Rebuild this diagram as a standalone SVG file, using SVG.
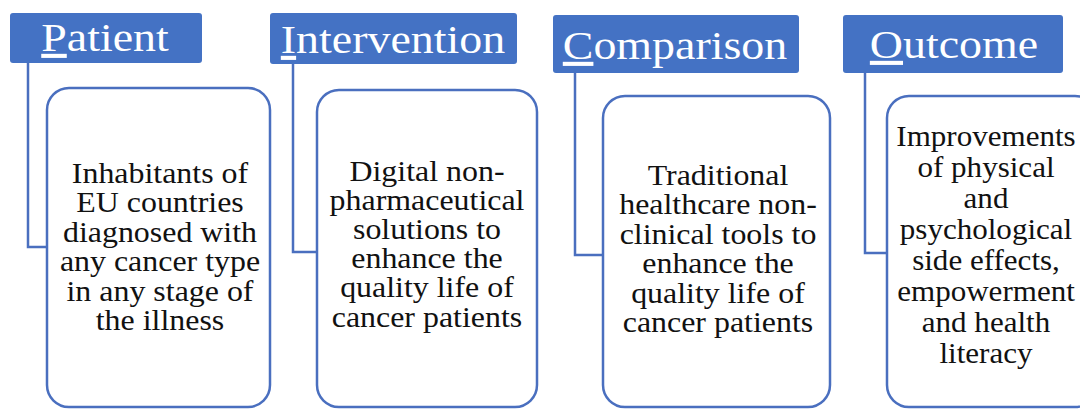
<svg xmlns="http://www.w3.org/2000/svg" width="1080" height="409" viewBox="0 0 1080 409">
<style>
.hdr{fill:#4472C4;}
.box{fill:#FFFFFF;stroke:#4A6FBF;stroke-width:2.5;}
.con{fill:none;stroke:#4A6FBF;stroke-width:2.5;}
.ht{font-family:"Liberation Serif","Times New Roman",serif;font-size:41px;fill:#FFFFFF;text-anchor:middle;}
.bt{font-family:"Liberation Serif","Times New Roman",serif;font-size:28.5px;fill:#111111;text-anchor:middle;}
.u{text-decoration:underline;}
</style>
<rect width="1080" height="409" fill="#FFFFFF"/>
<g id="connectors">
<path class="con" d="M28,63 V247 H47"/>
<path class="con" d="M293,64 V252 H317"/>
<path class="con" d="M575,73 V255 H603"/>
<path class="con" d="M865,73 V253 H887"/>
</g>
<g id="patient">
<rect class="hdr" x="10" y="13" width="192" height="50" rx="3"/>
<g transform="translate(105 0) scale(1.12 1)"><text class="ht" x="0" y="51"><tspan class="u">P</tspan>atient</text></g>
</g>
<g id="patient-detail">
<rect class="box" x="47" y="88" width="223" height="319" rx="22"/>
<g transform="translate(160 0) scale(1.12 1)">
<text class="bt" x="0" y="183">Inhabitants of</text>
<text class="bt" x="0" y="212.5">EU countries</text>
<text class="bt" x="0" y="242">diagnosed with</text>
<text class="bt" x="0" y="271.5">any cancer type</text>
<text class="bt" x="0" y="301">in any stage of</text>
<text class="bt" x="0" y="330.5">the illness</text>
</g>
</g>
<g id="intervention">
<rect class="hdr" x="270" y="13" width="247" height="51" rx="3"/>
<g transform="translate(393 0) scale(1.12 1)"><text class="ht" x="0" y="53"><tspan class="u">I</tspan>ntervention</text></g>
</g>
<g id="intervention-detail">
<rect class="box" x="317" y="90" width="220" height="317" rx="22"/>
<g transform="translate(427 0) scale(1.12 1)">
<text class="bt" x="0" y="181">Digital non-</text>
<text class="bt" x="0" y="210">pharmaceutical</text>
<text class="bt" x="0" y="239">solutions to</text>
<text class="bt" x="0" y="268">enhance the</text>
<text class="bt" x="0" y="297.5">quality life of</text>
<text class="bt" x="0" y="327">cancer patients</text>
</g>
</g>
<g id="comparison">
<rect class="hdr" x="553" y="15" width="246" height="58" rx="3"/>
<g transform="translate(675 0) scale(1.12 1)"><text class="ht" x="0" y="59"><tspan class="u">C</tspan>omparison</text></g>
</g>
<g id="comparison-detail">
<rect class="box" x="603" y="96" width="227" height="311" rx="22"/>
<g transform="translate(718 0) scale(1.12 1)">
<text class="bt" x="0" y="185">Traditional</text>
<text class="bt" x="0" y="214.5">healthcare non-</text>
<text class="bt" x="0" y="244">clinical tools to</text>
<text class="bt" x="0" y="273.5">enhance the</text>
<text class="bt" x="0" y="303">quality life of</text>
<text class="bt" x="0" y="332.5">cancer patients</text>
</g>
</g>
<g id="outcome">
<rect class="hdr" x="843" y="15" width="220" height="58" rx="3"/>
<g transform="translate(954 0) scale(1.12 1)"><text class="ht" x="0" y="58"><tspan class="u">O</tspan>utcome</text></g>
</g>
<g id="outcome-detail">
<rect class="box" x="887" y="96" width="210" height="311" rx="22"/>
<g transform="translate(986 0) scale(1.09 1)">
<text class="bt" x="0" y="146">Improvements</text>
<text class="bt" x="0" y="177">of physical</text>
<text class="bt" x="0" y="208">and</text>
<text class="bt" x="0" y="239">psychological</text>
<text class="bt" x="0" y="270">side effects,</text>
<text class="bt" x="0" y="301">empowerment</text>
<text class="bt" x="0" y="332">and health</text>
<text class="bt" x="0" y="363">literacy</text>
</g>
</g>
</svg>
